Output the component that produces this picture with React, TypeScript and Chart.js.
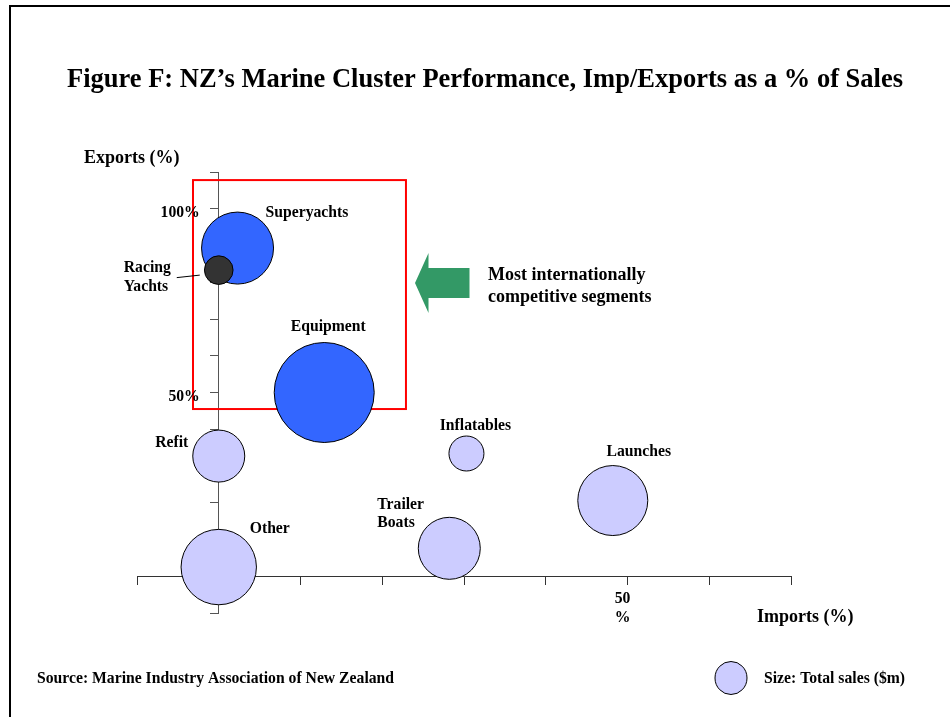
import React, { useEffect, useRef } from 'react';
import { Chart, registerables } from 'chart.js';

Chart.register(...registerables);

// ---- Data ----
const titleText = 'Figure F: NZ\u2019s Marine Cluster Performance, Imp/Exports as a % of Sales';
const segments = ['Superyachts', 'Racing Yachts', 'Equipment', 'Refit', 'Other', 'Inflatables', 'Launches', 'Trailer Boats'];
const importsPct = [2.3, 0, 12.9, 0, 0, 30.3, 48.2, 28.2];
const exportsPct = [89.3, 83.3, 50, 32.7, 2.5, 33.4, 20.6, 7.6];
// bubble radius (px) representing total sales ($m)
const salesRadius = [36, 14.3, 50, 26, 37.7, 17.5, 35, 31];
const segmentGroup = ['competitive', 'racing', 'competitive', 'domestic', 'domestic', 'domestic', 'domestic', 'domestic'];
const xTickValues = [-10, 0, 10, 20, 30, 40, 50, 60, 70];
const yTickValues = [-10, 0, 10, 20, 30, 40, 50, 60, 70, 80, 90, 100, 110];
const xTickLabels: Record<string, string[]> = { '50': ['50', '%'] };
const yTickLabels: Record<string, string> = { '100': '100%', '50': '50%' };
const xAxisTitle = 'Imports (%)';
const yAxisTitle = 'Exports (%)';
const calloutLines = ['Most internationally', 'competitive segments'];
const sourceText = 'Source: Marine Industry Association of New Zealand';
const sizeLegendText = 'Size: Total sales ($m)';
// highlighted box in data units [xMin, xMax, yMin, yMax]
const highlightBox = [-3.15, 22.9, 45.5, 107.8];

// ---- Styles ----
const groupColors: Record<string, string> = {
  competitive: '#3366FF',
  racing: '#333333',
  domestic: '#CCCCFF',
};
const SERIF = '"Liberation Serif", "Times New Roman", serif';

// label layout relative to bubble centre
const labelLayout: Record<string, { dx: number; dy: number; align: CanvasTextAlign; lines: string[] }> = {
  Superyachts: { dx: 28, dy: -31, align: 'left', lines: ['Superyachts'] },
  'Racing Yachts': { dx: -95, dy: 2, align: 'left', lines: ['Racing', 'Yachts'] },
  Equipment: { dx: 4, dy: -62, align: 'center', lines: ['Equipment'] },
  Refit: { dx: -47, dy: -9, align: 'center', lines: ['Refit'] },
  Other: { dx: 51, dy: -34, align: 'center', lines: ['Other'] },
  Inflatables: { dx: 9, dy: -23.5, align: 'center', lines: ['Inflatables'] },
  Launches: { dx: 26, dy: -45, align: 'center', lines: ['Launches'] },
  'Trailer Boats': { dx: -72, dy: -39.5, align: 'left', lines: ['Trailer', 'Boats'] },
};

const annotationPlugin = {
  id: 'figureAnnotations',
  beforeDatasetsDraw(chart: any) {
    const { ctx, scales } = chart;
    const x = scales.x;
    const y = scales.y;
    const x1 = x.getPixelForValue(highlightBox[0]);
    const x2 = x.getPixelForValue(highlightBox[1]);
    const y1 = y.getPixelForValue(highlightBox[3]);
    const y2 = y.getPixelForValue(highlightBox[2]);
    ctx.save();
    ctx.strokeStyle = '#FF0000';
    ctx.lineWidth = 2;
    ctx.strokeRect(x1, y1, x2 - x1, y2 - y1);
    ctx.restore();
  },
  afterDraw(chart: any) {
    const { ctx, scales } = chart;
    const x = scales.x;
    const y = scales.y;
    ctx.save();
    // frame
    ctx.fillStyle = '#000';
    ctx.fillRect(9, 5, 941, 2);
    ctx.fillRect(9, 5, 2, 712);

    // title
    ctx.fillStyle = '#000';
    ctx.textBaseline = 'alphabetic';
    ctx.textAlign = 'center';
    ctx.font = `bold 26.5px ${SERIF}`;
    ctx.fillText(titleText, 485, 87);

    // axis titles
    ctx.font = `bold 18px ${SERIF}`;
    ctx.textAlign = 'left';
    ctx.fillText(yAxisTitle, 84, 163);
    ctx.fillText(xAxisTitle, 757, 622);

    // y tick labels, left of the axis line
    ctx.font = `bold 15.7px ${SERIF}`;
    ctx.textAlign = 'right';
    const axisX = x.getPixelForValue(0);
    Object.keys(yTickLabels).forEach((k) => {
      ctx.fillText(yTickLabels[k], axisX - 19, y.getPixelForValue(Number(k)) + 8.5);
    });

    // bubble labels
    segments.forEach((name, i) => {
      const lay = labelLayout[name];
      if (!lay) return;
      const px = x.getPixelForValue(importsPct[i]);
      const py = y.getPixelForValue(exportsPct[i]);
      ctx.textAlign = lay.align;
      lay.lines.forEach((line, li) => {
        ctx.fillText(line, px + lay.dx, py + lay.dy + li * 18.6);
      });
    });

    // leader line for Racing Yachts
    const rIdx = segments.indexOf('Racing Yachts');
    const rx = x.getPixelForValue(importsPct[rIdx]);
    const ry = y.getPixelForValue(exportsPct[rIdx]);
    ctx.strokeStyle = '#000';
    ctx.lineWidth = 1;
    ctx.beginPath();
    ctx.moveTo(rx - 42, ry + 7.5);
    ctx.lineTo(rx - 19, ry + 5);
    ctx.stroke();

    // arrow
    ctx.fillStyle = '#339966';
    ctx.beginPath();
    ctx.moveTo(415, 283);
    ctx.lineTo(428.5, 253);
    ctx.lineTo(428.5, 268);
    ctx.lineTo(469.5, 268);
    ctx.lineTo(469.5, 298);
    ctx.lineTo(428.5, 298);
    ctx.lineTo(428.5, 313);
    ctx.closePath();
    ctx.fill();

    // callout text
    ctx.fillStyle = '#000';
    ctx.font = `bold 18px ${SERIF}`;
    ctx.textAlign = 'left';
    ctx.fillText(calloutLines[0], 488, 280);
    ctx.fillText(calloutLines[1], 488, 302);

    // source
    ctx.font = `bold 15.7px ${SERIF}`;
    ctx.fillText(sourceText, 37, 683);

    // size legend
    ctx.fillStyle = groupColors.domestic;
    ctx.strokeStyle = '#000';
    ctx.lineWidth = 1;
    ctx.beginPath();
    ctx.ellipse(731, 678, 16, 16.5, 0, 0, Math.PI * 2);
    ctx.fill();
    ctx.stroke();
    ctx.fillStyle = '#000';
    ctx.fillText(sizeLegendText, 764, 683);
    ctx.restore();
  },
};

export default function App() {
  const canvasRef = useRef<HTMLCanvasElement | null>(null);

  useEffect(() => {
    const canvas = canvasRef.current;
    if (!canvas) return;
    const tickFont = { family: SERIF, size: 15.7, weight: 'bold' as const, lineHeight: 1.17 };
    const chart = new Chart(canvas, {
      type: 'bubble',
      data: {
        datasets: [
          {
            data: segments.map((_, i) => ({ x: importsPct[i], y: exportsPct[i], r: salesRadius[i] })),
            backgroundColor: segmentGroup.map((g) => groupColors[g]),
            borderColor: '#000000',
            borderWidth: 1,
            hoverRadius: 0,
          },
        ],
      },
      options: {
        responsive: false,
        animation: false,
        events: [],
        layout: { padding: { left: 137, right: 159, top: 172, bottom: 104 } },
        plugins: {
          legend: { display: false },
          tooltip: { enabled: false },
          title: { display: false },
        },
        scales: {
          x: {
            type: 'linear',
            min: -10,
            max: 70,
            position: { y: 0 } as any,
            afterBuildTicks: (scale: any) => {
              scale.ticks = xTickValues.map((v) => ({ value: v }));
            },
            grid: { display: true, drawOnChartArea: false, drawTicks: true, tickLength: 8, color: '#333333', lineWidth: 1 },
            border: { display: true, color: '#333333', width: 1 },
            ticks: {
              autoSkip: false,
              maxRotation: 0,
              color: '#000',
              font: tickFont,
              padding: 6,
              labelOffset: -5,
              callback: (v: any) => xTickLabels[String(v)] ?? '',
            },
          },
          y: {
            type: 'linear',
            min: -10,
            max: 110,
            position: { x: 0 } as any,
            afterBuildTicks: (scale: any) => {
              scale.ticks = yTickValues.map((v) => ({ value: v }));
            },
            grid: { display: true, drawOnChartArea: false, drawTicks: true, tickLength: 8, color: '#555555', lineWidth: 1 },
            border: { display: true, color: '#555555', width: 1 },
            ticks: {
              display: false,
              autoSkip: false,
              callback: (v: any) => yTickLabels[String(v)] ?? '',
            },
          },
        },
      },
      plugins: [annotationPlugin],
    });
    return () => chart.destroy();
  }, []);

  return (
    <div style={{ position: 'fixed', left: 0, top: 0, width: 950, height: 717, background: '#fff' }}>
      <canvas ref={canvasRef} width={950} height={717} />
    </div>
  );
}
